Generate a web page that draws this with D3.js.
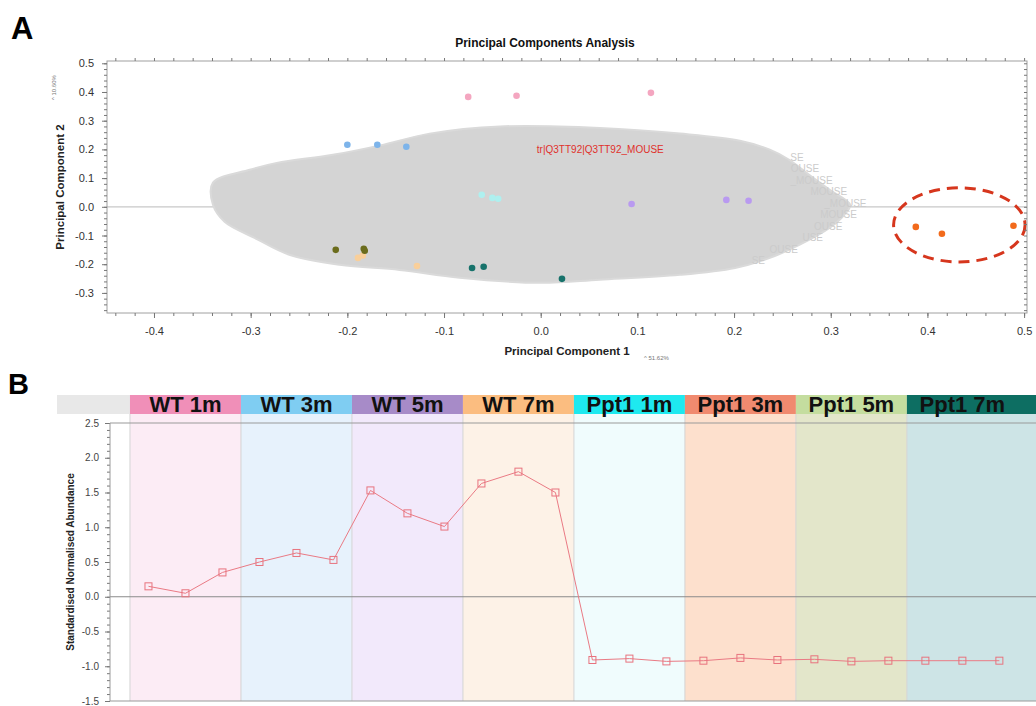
<!DOCTYPE html>
<html>
<head>
<meta charset="utf-8">
<script src="https://cdn.jsdelivr.net/npm/d3@7"></script>
<style>
body { margin:0; background:#fff; font-family:"Liberation Sans", Arial, sans-serif; }
</style>
</head>
<body>
<svg id="fig" width="1036" height="706"></svg>
<script>
// =====================================================================
// data
var groups = ["WT 1m", "WT 3m", "WT 5m", "WT 7m", "Ppt1 1m", "Ppt1 3m", "Ppt1 5m", "Ppt1 7m"];
var headerColors = ["#f08fb8", "#7fcdf2", "#a78bc8", "#fbbd80", "#1ee9ef", "#f08a6f", "#c4dd9f", "#0d6e62"];
var bandColors = ["#fcecf5", "#e7f2fc", "#f2e9fb", "#fdf2e7", "#f0fcfd", "#fde0cd", "#e3e6ca", "#cde4e6"];
var pointColors = ["#f4a6c0", "#7db4ea", "#b99af0", "#f9cf9a", "#aef0ef", "#f26a1b", "#6b6c1c", "#17726b"];

// PCA scores (PC1, PC2) and group index of each sample
var pc1 = [-0.075, -0.025, 0.114,  -0.200, -0.169, -0.139,  0.094, 0.192, 0.215,
           -0.189, -0.128, -0.184,  -0.061, -0.050, -0.044,  0.388, 0.415, 0.489,
           -0.212, -0.183, -0.182,  -0.071, -0.059, 0.022];
var pc2 = [0.383, 0.387, 0.397,  0.216, 0.216, 0.209,  0.010, 0.024, 0.021,
           -0.178, -0.206, -0.170,  0.042, 0.031, 0.028,  -0.070, -0.094, -0.066,
           -0.150, -0.146, -0.153,  -0.213, -0.209, -0.251];
var pcGroup = [0,0,0, 1,1,1, 2,2,2, 3,3,3, 4,4,4, 5,5,5, 6,6,6, 7,7,7];

// outline of the grey cloud of protein loadings
var cloudOutline = [[-0.339,0.084],[-0.301,0.129],[-0.273,0.153],[-0.215,0.181],[-0.166,0.214],
    [-0.115,0.255],[-0.042,0.280],[0.061,0.275],[0.144,0.255],[0.206,0.230],[0.237,0.199],
    [0.257,0.164],[0.278,0.111],[0.299,0.059],[0.320,0.007],[0.314,-0.028],[0.299,-0.073],
    [0.268,-0.132],[0.237,-0.178],[0.201,-0.213],[0.144,-0.237],[0.061,-0.254],[0.000,-0.265],
    [-0.084,-0.247],[-0.146,-0.220],[-0.208,-0.202],[-0.260,-0.167],[-0.296,-0.108],
    [-0.327,-0.052],[-0.339,0.007]];
// loading labels showing at the cloud's right edge (text end positions)
var fringeLabels = ["SE", "OUSE", "_MOUSE", "MOUSE", "_MOUSE", "MOUSE", "OUSE", "USE", "OUSE", "SE"];
var fringeX = [0.272, 0.288, 0.302, 0.317, 0.337, 0.327, 0.312, 0.292, 0.266, 0.232];
var fringeY = [0.170, 0.130, 0.090, 0.050, 0.010, -0.030, -0.070, -0.110, -0.150, -0.190];

var highlightLabel = "tr|Q3TT92|Q3TT92_MOUSE";
var pcTicksX = [-0.4, -0.3, -0.2, -0.1, 0.0, 0.1, 0.2, 0.3, 0.4, 0.5];
var pcTicksY = [-0.3, -0.2, -0.1, 0.0, 0.1, 0.2, 0.3, 0.4, 0.5];

// standardised normalised abundance, 3 samples per group
var abundance = [0.15, 0.05, 0.35,  0.50, 0.63, 0.53,  1.53, 1.20, 1.01,  1.63, 1.80, 1.50,
                 -0.91, -0.89, -0.93,  -0.92, -0.88, -0.91,  -0.90, -0.93, -0.92,  -0.92, -0.92, -0.92];
var abTicks = [-1.5, -1.0, -0.5, 0.0, 0.5, 1.0, 1.5, 2.0, 2.5];

// =====================================================================
var svg = d3.select("#fig");
var fmt = function(d){ return d.toFixed(1); };

// ---------------------------------------------------------------------
// panel A : PCA
var xA = d3.scaleLinear().domain([-0.4486, 0.503]).range([107, 1027]);
var yA = d3.scaleLinear().domain([-0.37, 0.508]).range([313, 61]);

svg.append("text").text("A")
    .attr("x", 11).attr("y", 39)
    .style("font-size", "31px").style("font-weight", "bold");

svg.append("text").text("Principal Components Analysis")
    .attr("x", 545).attr("y", 47).attr("text-anchor", "middle")
    .style("font-size", "12px").style("font-weight", "bold").style("fill", "#111");

// zero line
svg.append("line")
    .attr("x1", xA.range()[0]).attr("x2", xA.range()[1])
    .attr("y1", yA(0)).attr("y2", yA(0))
    .style("stroke", "#c8c8c8").style("stroke-width", 1.2);

// grey cloud
var cloudLine = d3.line()
    .x(function(d){ return xA(d[0]); })
    .y(function(d){ return yA(d[1]); })
    .curve(d3.curveCatmullRomClosed);
svg.append("path").datum(cloudOutline)
    .attr("d", cloudLine)
    .style("fill", "#d4d4d4").style("stroke", "#dadada").style("stroke-width", 2);

svg.selectAll(".fringe").data(fringeLabels).enter().append("text")
    .attr("class", "fringe")
    .attr("x", function(d, i){ return xA(fringeX[i]); })
    .attr("y", function(d, i){ return yA(fringeY[i]) + 3; })
    .attr("text-anchor", "end")
    .text(function(d){ return d; })
    .style("font-size", "10px").style("fill", "#cbcbcb");

// sample points
svg.selectAll(".pc").data(pc1).enter().append("circle")
    .attr("class", "pc")
    .attr("cx", function(d){ return xA(d); })
    .attr("cy", function(d, i){ return yA(pc2[i]); })
    .attr("r", 3.3)
    .style("fill", function(d, i){ return pointColors[pcGroup[i]]; });

svg.append("text").text(highlightLabel)
    .attr("x", xA(-0.004)).attr("y", yA(0.2) + 4)
    .style("font-size", "10px").style("fill", "#e0302b");

// dashed ellipse round the Ppt1 3m samples
svg.append("ellipse")
    .attr("cx", xA(0.433)).attr("cy", yA(-0.063))
    .attr("rx", xA(0.433 + 0.068) - xA(0.433))
    .attr("ry", yA(-0.063 - 0.129) - yA(-0.063))
    .style("fill", "none").style("stroke", "#d6361d")
    .style("stroke-width", 3).style("stroke-dasharray", "11,7");

// frame and axes
var gA = svg.append("g").attr("class", "axesA");
gA.append("rect")
    .attr("x", xA.range()[0]).attr("y", yA.range()[1])
    .attr("width", xA.range()[1] - xA.range()[0])
    .attr("height", yA.range()[0] - yA.range()[1])
    .style("fill", "none").style("stroke", "#a0a0a0");

var minorX = d3.range(-44, 51, 2).map(function(d){ return d / 100; });
var minorY = d3.range(-36, 51, 2).map(function(d){ return d / 100; });

function styleAxis(g) {
    g.select(".domain").remove();
    g.selectAll(".tick line").style("stroke", "#777");
    g.selectAll(".tick text").style("fill", "#333").style("font-size", "11px")
        .style("font-family", "'Liberation Sans', Arial, sans-serif");
}

gA.append("g").attr("transform", "translate(0," + yA.range()[0] + ")")
    .call(d3.axisBottom(xA).tickValues(minorX).tickSize(3).tickFormat(""))
    .call(styleAxis);
gA.append("g").attr("transform", "translate(0," + yA.range()[0] + ")")
    .call(d3.axisBottom(xA).tickValues(pcTicksX).tickSize(5).tickPadding(9).tickFormat(fmt))
    .call(styleAxis);
gA.append("g").attr("transform", "translate(0," + yA.range()[1] + ")")
    .call(d3.axisTop(xA).tickValues(minorX).tickSize(3).tickFormat(""))
    .call(styleAxis);
gA.append("g").attr("transform", "translate(" + xA.range()[0] + ",0)")
    .call(d3.axisLeft(yA).tickValues(minorY).tickSize(3).tickFormat(""))
    .call(styleAxis);
gA.append("g").attr("transform", "translate(" + xA.range()[0] + ",0)")
    .call(d3.axisLeft(yA).tickValues(pcTicksY).tickSize(5).tickPadding(8).tickFormat(fmt))
    .call(styleAxis);
gA.append("g").attr("transform", "translate(" + xA.range()[1] + ",0)")
    .call(d3.axisLeft(yA).tickValues(minorY).tickSize(3).tickFormat(""))
    .call(styleAxis);

gA.append("text").text("Principal Component 1")
    .attr("x", 567).attr("y", 355).attr("text-anchor", "middle")
    .style("font-size", "11.5px").style("font-weight", "bold").style("fill", "#222");
gA.append("text").text("^ 51.62%")
    .attr("x", 644).attr("y", 360)
    .style("font-size", "6px").style("fill", "#777");
gA.append("text").text("Principal Component 2")
    .attr("transform", "translate(64,187) rotate(-90)").attr("text-anchor", "middle")
    .style("font-size", "11.5px").style("font-weight", "bold").style("fill", "#222");
gA.append("text").text("^ 10.60%")
    .attr("transform", "translate(56,100) rotate(-90)")
    .style("font-size", "6px").style("fill", "#777");

// ---------------------------------------------------------------------
// panel B : abundance profile
var xB = d3.scaleLinear().domain([-1.04, 23.99]).range([110, 1036]);
var yB = d3.scaleLinear().domain([-1.5, 2.5]).range([701, 423]);
var headTop = 395, headBottom = 414;

svg.append("text").text("B")
    .attr("x", 8).attr("y", 394)
    .style("font-size", "29px").style("font-weight", "bold");

svg.append("rect")
    .attr("x", 57).attr("y", headTop)
    .attr("width", xB(-0.5) - 57).attr("height", headBottom - headTop)
    .style("fill", "#e8e8e8");

// band edges; the last band runs off the right side of the figure
function bandX0(i) { return xB(3 * i - 0.5); }
function bandX1(i) { return i === groups.length - 1 ? xB.range()[1] : xB(3 * i + 2.5); }

var band = svg.selectAll(".band").data(groups).enter().append("g").attr("class", "band");
band.append("rect")
    .attr("x", function(d, i){ return bandX0(i); })
    .attr("y", headBottom)
    .attr("width", function(d, i){ return bandX1(i) - bandX0(i); })
    .attr("height", yB(-1.5) - headBottom)
    .style("fill", function(d, i){ return bandColors[i]; });
band.append("rect")
    .attr("x", function(d, i){ return bandX0(i); })
    .attr("y", headTop)
    .attr("width", function(d, i){ return bandX1(i) - bandX0(i); })
    .attr("height", headBottom - headTop)
    .style("fill", function(d, i){ return headerColors[i]; });
band.append("line")
    .attr("x1", function(d, i){ return bandX0(i); })
    .attr("x2", function(d, i){ return bandX0(i); })
    .attr("y1", headBottom).attr("y2", yB(-1.5))
    .style("stroke", "#d4d4d4");
band.append("text")
    .attr("x", function(d, i){ return xB(3 * i + 1); })
    .attr("y", headBottom - 2)
    .attr("text-anchor", "middle")
    .text(function(d){ return d; })
    .style("font-size", "22px").style("font-weight", "bold").style("fill", "#111");

// frame lines
[2.5, 0, -1.5].forEach(function(v){
    svg.append("line")
        .attr("x1", xB.range()[0]).attr("x2", xB.range()[1])
        .attr("y1", yB(v)).attr("y2", yB(v))
        .style("stroke", v === 0 ? "#8a8a8a" : "#9a9a9a").style("stroke-width", 1.2);
});

var minorB = d3.range(-15, 26, 1).map(function(d){ return d / 10; });
svg.append("g").attr("transform", "translate(" + xB.range()[0] + ",0)")
    .call(d3.axisLeft(yB).tickValues(minorB).tickSize(3).tickFormat(""))
    .call(styleAxis);
var axB = svg.append("g").attr("transform", "translate(" + xB.range()[0] + ",0)")
    .call(d3.axisLeft(yB).tickValues(abTicks).tickSize(5).tickPadding(6).tickFormat(fmt))
    .call(styleAxis);
axB.selectAll(".tick text").style("font-size", "10px").style("fill", "#444");
svg.append("line")
    .attr("x1", xB.range()[0]).attr("x2", xB.range()[0])
    .attr("y1", yB(2.5)).attr("y2", yB(-1.5))
    .style("stroke", "#999");

svg.append("text").text("Standardised Normalised Abundance")
    .attr("transform", "translate(74," + yB(0.5) + ") rotate(-90)")
    .attr("text-anchor", "middle")
    .style("font-size", "10px").style("font-weight", "bold").style("fill", "#222");

// profile line
var profile = d3.line()
    .x(function(d, i){ return xB(i); })
    .y(function(d){ return yB(d); });
svg.append("path").datum(abundance)
    .attr("d", profile)
    .style("fill", "none").style("stroke", "#ea7a84").style("stroke-width", 1);
svg.selectAll(".mk").data(abundance).enter().append("rect")
    .attr("class", "mk")
    .attr("x", function(d, i){ return xB(i) - 3.5; })
    .attr("y", function(d){ return yB(d) - 3.5; })
    .attr("width", 7).attr("height", 7)
    .style("fill", "none").style("stroke", "#e8737e").style("stroke-width", 1);
</script>
</body>
</html>
